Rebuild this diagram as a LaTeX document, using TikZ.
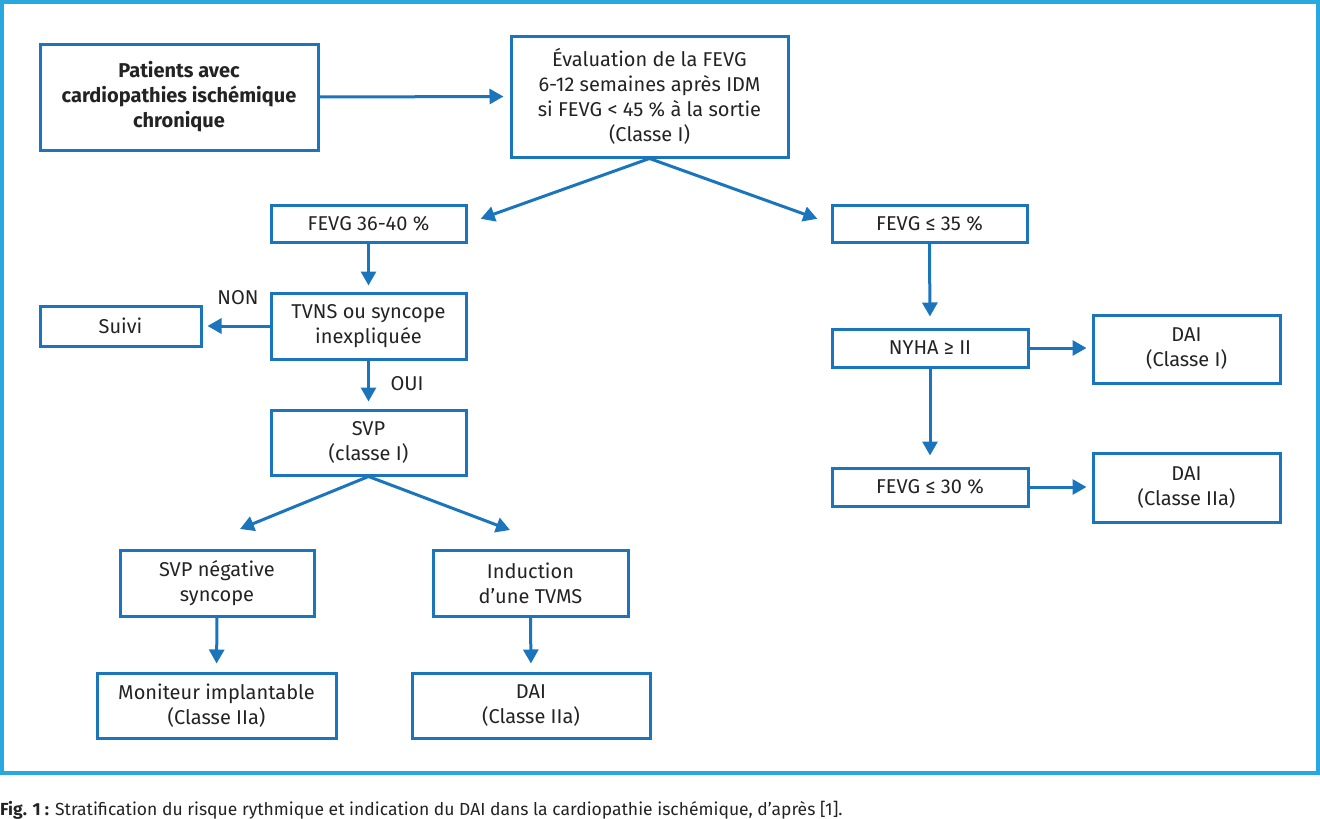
\documentclass[tikz,border=0pt]{standalone}
\usepackage{fontspec}
\setmainfont{Fira Sans}
\usetikzlibrary{arrows.meta,calc}
\definecolor{boxblue}{RGB}{27,117,188}
\definecolor{frameblue}{RGB}{41,168,224}
\definecolor{txt}{RGB}{35,35,35}
\begin{document}
\begin{tikzpicture}[x=1pt,y=-1pt,
  box/.style={draw=boxblue,line width=3pt,rectangle,align=center,inner sep=0pt,
    text=txt,font=\fontsize{20}{25}\selectfont},
  arr/.style={draw=boxblue,line width=3pt,-{Triangle[length=14pt,width=15pt]}},
  lbl/.style={text=txt,font=\fontsize{20}{25}\selectfont,inner sep=0pt}]
\useasboundingbox (0,0) rectangle (1320,819);
\draw[frameblue,line width=3.5pt] (2,2) rectangle (1318,773);

\node[box,minimum width=278,minimum height=106,font=\fontsize{20}{25}\selectfont\bfseries] (pat) at (179,97)
  {Patients avec\\cardiopathies ischémique\\chronique};
\node[box,minimum width=277,minimum height=121] (eval) at (649.5,96.5)
  {Évaluation de la FEVG\\6-12 semaines après IDM\\si FEVG < 45 \% à la sortie\\(Classe I)};
\node[box,minimum width=195,minimum height=37] (f3640) at (368.5,223.5) {FEVG 36-40 \%};
\node[box,minimum width=195,minimum height=37] (f35) at (929.5,223.5) {FEVG ≤ 35 \%};
\node[box,minimum width=195,minimum height=66] (tvns) at (368.5,326) {TVNS ou syncope\\inexpliquée};
\node[box,minimum width=161,minimum height=40] (suivi) at (120.5,326) {Suivi};
\node[box,minimum width=195,minimum height=65] (svp) at (368.5,442.5) {SVP\\(classe I)};
\node[box,minimum width=194,minimum height=66] (svpneg) at (217,583) {SVP négative\\syncope};
\node[box,minimum width=195,minimum height=66] (induc) at (530.5,583) {Induction\\d’une TVMS};
\node[box,minimum width=239,minimum height=65] (monit) at (216.5,705.5) {Moniteur implantable\\(Classe IIa)};
\node[box,minimum width=238,minimum height=65] (daiL) at (531,705.5) {DAI\\(Classe IIa)};
\node[box,minimum width=196,minimum height=38] (nyha) at (930,348) {NYHA ≥ II};
\node[box,minimum width=187,minimum height=68] (daiI) at (1186.5,349) {DAI\\(Classe I)};
\node[box,minimum width=196,minimum height=38] (f30) at (930,487) {FEVG ≤ 30 \%};
\node[box,minimum width=187,minimum height=69] (daiIIa) at (1186.5,487.5) {DAI\\(Classe IIa)};

\node[lbl] (non) at (238,298) {NON};
\node[lbl] (oui) at (407,384) {OUI};

\coordinate (sl) at (240,529);
\coordinate (sr) at (510,530);

\draw[arr,shorten >=6pt] (pat.east) -- (eval.west);
\draw[arr,shorten >=14pt] (eval.south) -- (f3640.east);
\draw[arr,shorten >=14pt] (eval.south) -- (f35.west);
\draw[arr,shorten >=6pt] (f3640.south) -- (tvns.north);
\draw[arr,shorten >=5pt] (tvns.west) -- (suivi.east);
\draw[arr,shorten >=7pt] (tvns.south) -- (svp.north);
\draw[arr] (svp.south) -- (sl);
\draw[arr] (svp.south) -- (sr);
\draw[arr,shorten >=8pt] (svpneg.south) -- (monit.north);
\draw[arr,shorten >=8pt] (induc.south) -- (daiL.north);
\draw[arr,shorten >=11pt] (f35.south) -- (nyha.north);
\draw[arr,shorten >=5pt] (nyha.east) -- (nyha.east -| daiI.west);
\draw[arr,shorten >=11pt] (nyha.south) -- (f30.north);
\draw[arr,shorten >=5pt] (f30.east) -- (f30.east -| daiIIa.west);

\node[anchor=base west,inner sep=0pt,text=txt,font=\fontsize{17.5}{20}\selectfont] (cap) at (0,815)
  {\textbf{Fig. 1 :} Stratification du risque rythmique et indication du DAI dans la cardiopathie ischémique, d’après [1].};
\end{tikzpicture}
\end{document}
